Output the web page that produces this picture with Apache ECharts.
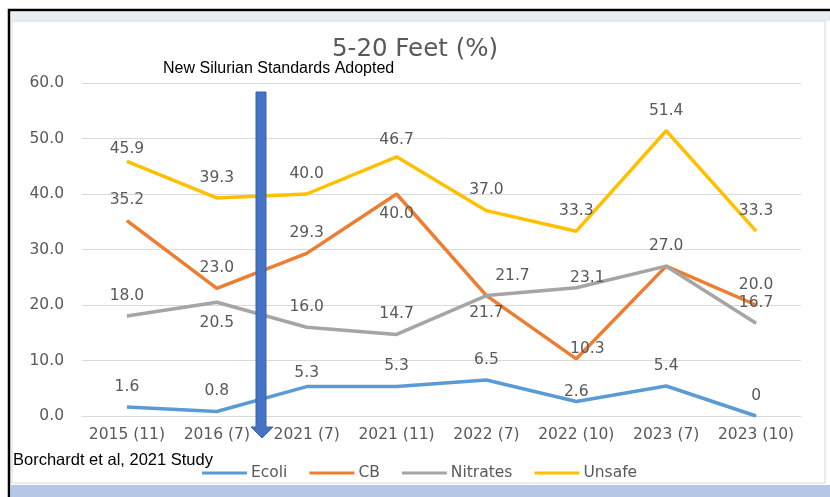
<!DOCTYPE html>
<html>
<head>
<meta charset="utf-8">
<script src="https://cdn.jsdelivr.net/npm/echarts@6/dist/echarts.min.js"></script>
<style>
  html, body { margin: 0; padding: 0; background: #fff; }
  #chart { width: 830px; height: 497px; }
</style>
</head>
<body>
<div id="chart"></div>
<script>
var categories = ['2015 (11)', '2016 (7)', '2021 (7)', '2021 (11)', '2022 (7)', '2022 (10)', '2023 (7)', '2023 (10)'];
var ecoli = [1.6, 0.8, 5.3, 5.3, 6.5, 2.6, 5.4, 0];
var cb = [35.2, 23.0, 29.3, 40.0, 21.7, 10.3, 27.0, 20.0];
var nitrates = [18.0, 20.5, 16.0, 14.7, 21.7, 23.1, 27.0, 16.7];
var unsafe = [45.9, 39.3, 40.0, 46.7, 37.0, 33.3, 51.4, 33.3];

// label placement per point: t = above, b = below, h = hidden
var cbPlace = ['t', 't', 't', 'b', 'b', 't', 't', 't'];
var nitPlace = ['t', 'b', 't', 't', 't', 't', 'h', 't'];

var grey = '#595959';
var labelFont = 'DejaVu Sans';

function fmt(v) {
    return v === 0 ? '0' : v.toFixed(1);
}

function points(values, place) {
    return values.map(function (v, i) {
        var p = place ? place[i] : 't';
        return {
            value: v,
            label: {
                show: p !== 'h',
                position: p === 'b' ? 'bottom' : 'top',
                formatter: fmt(v)
            }
        };
    });
}

function lineSeries(name, color, data, nudges) {
    return {
        name: name,
        type: 'line',
        data: data,
        symbol: 'circle',
        symbolSize: 0.5,
        lineStyle: { color: color, width: 3.5 },
        itemStyle: { color: color },
        label: {
            show: true,
            distance: 12,
            color: grey,
            fontFamily: labelFont,
            fontSize: 15.5
        },
        labelLayout: function (p) {
            var n = nudges[p.dataIndex] || [0, 0];
            return { hideOverlap: false, dx: n[0], dy: n[1] };
        }
    };
}

var chart = echarts.init(document.getElementById('chart'));
var option = {
    backgroundColor: '#fff',
    animation: false,
    title: {
        text: '5-20 Feet (%)',
        left: 'center',
        top: 32,
        textStyle: { color: grey, fontSize: 24.5, fontWeight: 'normal', fontFamily: labelFont }
    },
    legend: {
        left: 197,
        top: 460,
        icon: 'rect',
        itemWidth: 45,
        itemHeight: 3,
        itemGap: 22,
        textStyle: { color: grey, fontSize: 15.5, fontFamily: labelFont, padding: [0, 0, 0, -1] },
        data: ['Ecoli', 'CB', 'Nitrates', 'Unsafe']
    },
    grid: { left: 82, right: 29, top: 83, bottom: 81 },
    xAxis: {
        type: 'category',
        data: categories,
        axisLine: { lineStyle: { color: '#d9d9d9' } },
        axisTick: { show: false },
        axisLabel: { color: grey, fontSize: 15.5, fontFamily: labelFont, margin: 11, interval: 0 }
    },
    yAxis: {
        type: 'value',
        min: 0,
        max: 60,
        interval: 10,
        axisLine: { show: false },
        axisTick: { show: false },
        splitLine: { lineStyle: { color: '#d9d9d9' } },
        axisLabel: {
            color: grey, fontSize: 15.5, fontFamily: labelFont, margin: 18,
            formatter: function (v) { return v.toFixed(1); }
        }
    },
    series: [
        lineSeries('Ecoli', '#5B9BD5', points(ecoli, null), { 2: [0, 7], 5: [0, 11] }),
        lineSeries('CB', '#ED7D31', points(cb, cbPlace), { 4: [0, -3], 5: [11, 10] }),
        lineSeries('Nitrates', '#A5A5A5', points(nitrates, nitPlace), { 4: [26, 1], 5: [11, 10] }),
        lineSeries('Unsafe', '#FFC000', points(unsafe, null), { 0: [0, 8], 3: [0, 3] })
    ],
    graphic: [
        { type: 'rect', z: -20, shape: { x: 9, y: 10, width: 840, height: 500 },
          style: { fill: '#fff', stroke: '#000', lineWidth: 2.5 } },
        { type: 'rect', z: -19, shape: { x: 11, y: 12, width: 830, height: 9 },
          style: { fill: '#e9edf4' } },
        { type: 'rect', z: -18, shape: { x: 12, y: 21, width: 813, height: 462 },
          style: { fill: '#fff', stroke: '#d9d9d9', lineWidth: 1 } },
        { type: 'rect', z: -18, shape: { x: 11, y: 485, width: 830, height: 15 },
          style: { fill: '#b4c7e7' } },
        { type: 'text', z: 10, left: 163, top: 61,
          style: { text: 'New Silurian Standards Adopted', fill: '#000', fontSize: 16, fontFamily: 'Liberation Sans' } },
        { type: 'text', z: 10, left: 13, top: 452,
          style: { text: 'Borchardt et al, 2021 Study', fill: '#000', fontSize: 16.5, fontFamily: 'Liberation Sans' } },
        { type: 'polygon', z: 100,
          shape: { points: [[256, 92], [266, 92], [266, 427], [273, 427], [262, 438], [251, 427], [256, 427]] },
          style: { fill: '#4472C4', stroke: '#3a63ad', lineWidth: 1 } }
    ]
};
chart.setOption(option);
</script>
</body>
</html>
